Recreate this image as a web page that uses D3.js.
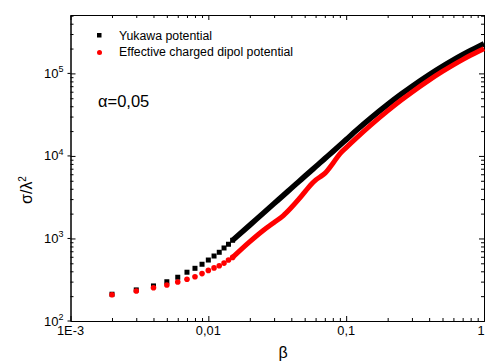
<!DOCTYPE html>
<html>
<head>
<meta charset="utf-8">
<script src="https://cdn.jsdelivr.net/npm/d3@7"></script>
<style>
  body { margin: 0; background: #fff; }
  svg { display: block; font-family: "Liberation Sans", Arial, sans-serif; }
</style>
</head>
<body>
<div id="chart"></div>
<script>
// beta values (x) and the two series
const beta = [0.002, 0.003, 0.004, 0.005, 0.006, 0.007, 0.008, 0.009, 0.010,
    0.011, 0.012, 0.013, 0.014, 0.015, 0.02, 0.025, 0.03, 0.035, 0.04, 0.045,
    0.05, 0.055, 0.06, 0.065, 0.07, 0.08, 0.09, 0.1, 0.12, 0.15, 0.2, 0.25,
    0.3, 0.4, 0.5, 0.6, 0.7, 0.8, 0.9, 1.0];

const yukawa = [211, 238, 266, 299, 339, 390, 435, 487, 548,
    613, 680, 767, 851, 950, 1453, 2024, 2650, 3324, 4060, 4833,
    5650, 6504, 7392, 8322, 9280, 11290, 13450, 15770, 20750, 28530, 42040, 55800,
    69500, 96250, 121700, 145700, 168400, 189600, 209600, 228400];

const dipol = [208, 231, 253, 273, 297, 320, 344, 375, 410,
    440, 468, 503, 548, 590, 915, 1250, 1566, 1894, 2371, 2955,
    3650, 4420, 5100, 5600, 6150, 8100, 10600, 12600, 16770, 23430, 35140, 47190,
    59250, 82950, 105500, 126900, 146900, 165600, 183200, 199700];

const xTickValues = [0.001, 0.01, 0.1, 1];
const xTickLabels = ["1E-3", "0,01", "0,1", "1"];
const yTickValues = [1e2, 1e3, 1e4, 1e5];
const yTickExp = ["2", "3", "4", "5"];

const seriesNames = ["Yukawa potential", "Effective charged dipol potential"];
const seriesColors = ["#000000", "#ff0000"];

// below this beta the points are drawn one by one, above it they merge into a band
const denseFrom = 0.015;

function drawChart() {
    const W = 486, H = 363;
    const margin = { top: 15, right: 2, bottom: 42, left: 70.5 };
    const width = W - margin.left - margin.right,
        height = H - margin.top - margin.bottom;

    const svg = d3.select("#chart").append("svg")
        .attr("width", W)
        .attr("height", H);

    const g = svg.append("g")
        .attr("transform", `translate(${margin.left},${margin.top})`);

    const x = d3.scaleLog().domain([0.001, 1]).range([0, width]);
    const y = d3.scaleLog().domain([100, 5.1e5]).range([height, 0]);

    // minor ticks 2..9 per decade
    const xMinor = [];
    for (let e = -3; e < 0; e++) for (let k = 2; k <= 9; k++) xMinor.push(k * Math.pow(10, e));
    const yMinor = [];
    for (let e = 2; e <= 5; e++) for (let k = 2; k <= 9; k++) {
        const v = k * Math.pow(10, e);
        if (v <= 5.1e5) yMinor.push(v);
    }

    const axisStyle = sel => {
        sel.select(".domain").attr("stroke", "#000");
        sel.selectAll("line").attr("stroke", "#000");
        sel.selectAll("text").remove();
    };

    // bottom
    g.append("g").attr("transform", `translate(0,${height})`)
        .call(d3.axisBottom(x).tickValues(xTickValues).tickSizeInner(-5).tickSizeOuter(0))
        .call(axisStyle);
    g.append("g").attr("transform", `translate(0,${height})`)
        .call(d3.axisBottom(x).tickValues(xMinor).tickSizeInner(-3).tickSizeOuter(0))
        .call(axisStyle);
    // top
    g.append("g")
        .call(d3.axisTop(x).tickValues(xTickValues).tickSizeInner(-5).tickSizeOuter(0))
        .call(axisStyle);
    g.append("g")
        .call(d3.axisTop(x).tickValues(xMinor).tickSizeInner(-3).tickSizeOuter(0))
        .call(axisStyle);
    // left
    g.append("g")
        .call(d3.axisLeft(y).tickValues(yTickValues).tickSizeInner(-5).tickSizeOuter(0))
        .call(axisStyle);
    g.append("g")
        .call(d3.axisLeft(y).tickValues(yMinor).tickSizeInner(-3).tickSizeOuter(0))
        .call(axisStyle);
    // right
    g.append("g").attr("transform", `translate(${width},0)`)
        .call(d3.axisRight(y).tickValues(yTickValues).tickSizeInner(-5).tickSizeOuter(0))
        .call(axisStyle);
    g.append("g").attr("transform", `translate(${width},0)`)
        .call(d3.axisRight(y).tickValues(yMinor).tickSizeInner(-3).tickSizeOuter(0))
        .call(axisStyle);

    // short outer marks at the left majors
    g.selectAll(".ymaj-out")
        .data(yTickValues)
        .join("line")
        .attr("x1", -3).attr("x2", 0)
        .attr("y1", d => y(d)).attr("y2", d => y(d))
        .attr("stroke", "#000");

    // x tick labels (the last one sits against the right edge)
    const lastX = xTickValues.length - 1;
    g.selectAll(".xlab")
        .data(xTickValues)
        .join("text")
        .attr("x", (d, i) => i === lastX ? x(d) + 0.5 : x(d))
        .attr("y", height + 13.5)
        .attr("text-anchor", (d, i) => i === lastX ? "end" : "middle")
        .style("font-size", "12.8px")
        .text((d, i) => xTickLabels[i]);

    // y tick labels 10^n
    const yl = g.selectAll(".ylab")
        .data(yTickValues)
        .join("text")
        .attr("x", -7)
        .attr("y", d => y(d) + 4.5)
        .attr("text-anchor", "end")
        .style("font-size", "13px");
    yl.append("tspan").text("10");
    yl.append("tspan")
        .attr("dy", -5.5)
        .style("font-size", "9px")
        .text((d, i) => yTickExp[i]);

    // dense part drawn as a thick band through the points
    const line = d3.line()
        .x(d => x(d[0]))
        .y(d => y(d[1]))
        .curve(d3.curveMonotoneX);

    [yukawa, dipol].forEach((vals, s) => {
        const pts = beta.map((b, i) => [b, vals[i]]).filter(d => d[0] >= denseFrom - 1e-9);
        g.append("path")
            .datum(pts)
            .attr("fill", "none")
            .attr("stroke", seriesColors[s])
            .attr("stroke-width", s === 0 ? 5.5 : 5)
            .attr("stroke-linejoin", "round")
            .attr("d", line);

        const sparse = beta.map((b, i) => [b, vals[i]]).filter(d => d[0] <= denseFrom + 1e-9);
        if (s === 0) {
            g.selectAll(".yk")
                .data(sparse)
                .join("rect")
                .attr("x", d => x(d[0]) - 2.5)
                .attr("y", d => y(d[1]) - 2.5)
                .attr("width", 5)
                .attr("height", 5)
                .attr("fill", seriesColors[0]);
        } else {
            g.selectAll(".dp")
                .data(sparse)
                .join("circle")
                .attr("cx", d => x(d[0]))
                .attr("cy", d => y(d[1]))
                .attr("r", 2.8)
                .attr("fill", seriesColors[1]);
        }
    });

    // legend
    const legend = svg.append("g");
    legend.append("rect")
        .attr("x", 97).attr("y", 33).attr("width", 4.5).attr("height", 4.5)
        .attr("fill", seriesColors[0]);
    legend.append("circle")
        .attr("cx", 99.5).attr("cy", 52.5).attr("r", 2.5)
        .attr("fill", seriesColors[1]);
    legend.selectAll(".lt")
        .data(seriesNames)
        .join("text")
        .attr("x", 119)
        .attr("y", (d, i) => 39.5 + i * 16.5)
        .style("font-size", "12.3px")
        .text(d => d);

    svg.append("text")
        .attr("x", 98)
        .attr("y", 107)
        .style("font-size", "16.5px")
        .text("\u03b1=0,05");

    // axis titles
    svg.append("text")
        .attr("x", 283)
        .attr("y", 358)
        .attr("text-anchor", "middle")
        .style("font-size", "16px")
        .text("\u03b2");

    const yt = svg.append("text")
        .attr("transform", "translate(32,190) rotate(-90)")
        .attr("text-anchor", "middle")
        .style("font-size", "16px");
    yt.append("tspan").text("\u03c3/\u03bb");
    yt.append("tspan").attr("dy", -6).style("font-size", "10px").text("2");
}

drawChart();
</script>
</body>
</html>
